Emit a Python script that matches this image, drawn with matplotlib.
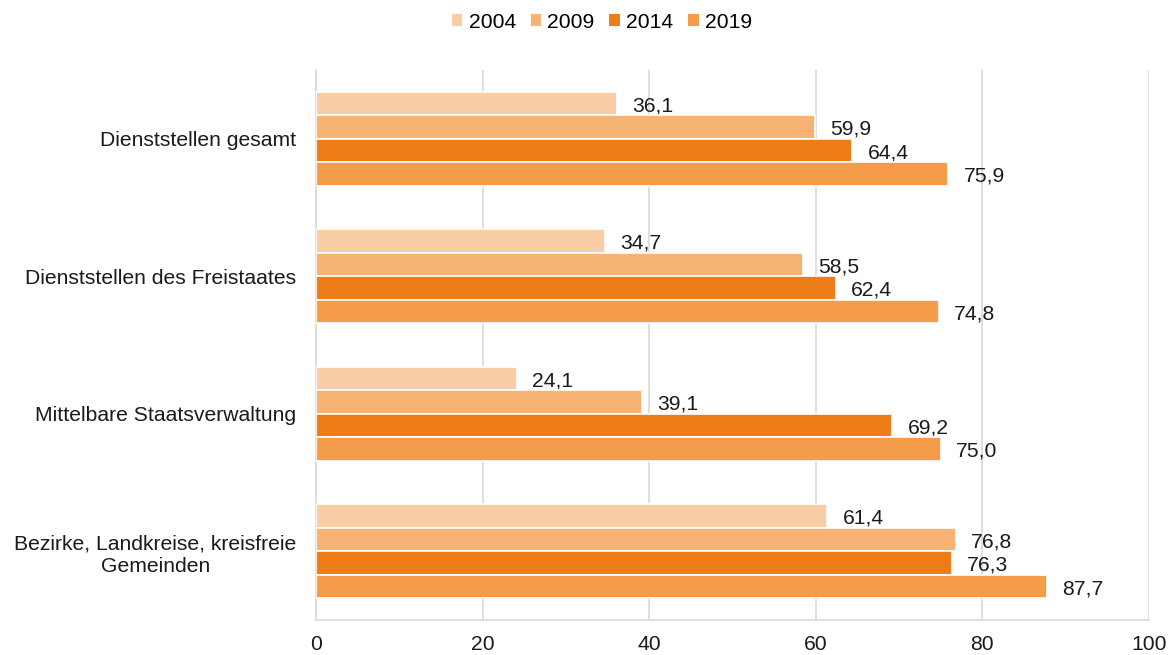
import matplotlib
matplotlib.use("Agg")
import matplotlib.pyplot as plt
from matplotlib.patches import Patch
import numpy as np

plt.rcParams['font.family'] = ['Liberation Sans', 'DejaVu Sans']

categories = [
    "Dienststellen gesamt",
    "Dienststellen des Freistaates",
    "Mittelbare Staatsverwaltung",
    "Bezirke, Landkreise, kreisfreie\nGemeinden",
]
years = ["2004", "2009", "2014", "2019"]
values = {
    "2004": [36.1, 34.7, 24.1, 61.4],
    "2009": [59.9, 58.5, 39.1, 76.8],
    "2014": [64.4, 62.4, 69.2, 76.3],
    "2019": [75.9, 74.8, 75.0, 87.7],
}
colors = ["#F9CEA6", "#F6B374", "#EE7D17", "#F49C4A"]
x_ticks = [0, 20, 40, 60, 80, 100]

FS = 15.2

fig = plt.figure(figsize=(11.7, 6.55), dpi=100)
ax = fig.add_axes([316 / 1170, 35 / 655, 833 / 1170, 550 / 655])

n = len(categories)
slot = 0.171
centers = np.arange(n)
for i, (yr, col) in enumerate(zip(years, colors)):
    ys = centers + (i - 1.5) * slot
    vals = values[yr]
    ax.barh(ys, vals, height=slot, color=col, edgecolor="white",
            linewidth=1.2, zorder=3)
    for y, v in zip(ys, vals):
        ax.annotate(f"{v:.1f}".replace(".", ","), xy=(v, y),
                    xytext=(11, -1.5), textcoords="offset points",
                    ha="left", va="center", fontsize=FS, color="#1a1a1a")

ax.set_xlim(0, 100)
ax.set_ylim(n - 0.5, -0.5)
ax.set_xticks(x_ticks)
ax.set_xticklabels([str(t) for t in x_ticks], fontsize=FS, color="#1a1a1a")
ax.set_yticks(centers)
ax.set_yticklabels(categories, fontsize=FS, color="#1a1a1a",
                   multialignment="center", linespacing=1.25)
ax.tick_params(axis="both", length=0)
ax.tick_params(axis="x", pad=11)
ax.tick_params(axis="y", pad=14)

ax.grid(axis="x", color="#D9D9D9", linewidth=1.2, zorder=0)
for side in ["top", "right"]:
    ax.spines[side].set_visible(False)
ax.spines["left"].set_color("#D9D9D9")
ax.spines["bottom"].set_color("#D9D9D9")
ax.spines["left"].set_linewidth(1.2)
ax.spines["bottom"].set_linewidth(1.2)

handles = [Patch(facecolor=c, edgecolor="none") for c in colors]
fig.legend(handles, years, loc="center", bbox_to_anchor=(0.5145, 1 - 22 / 655),
           ncol=4, frameon=False, fontsize=FS, handlelength=0.5,
           handleheight=0.5, handletextpad=0.3, columnspacing=0.7)

fig.savefig("out.png", dpi=100)
